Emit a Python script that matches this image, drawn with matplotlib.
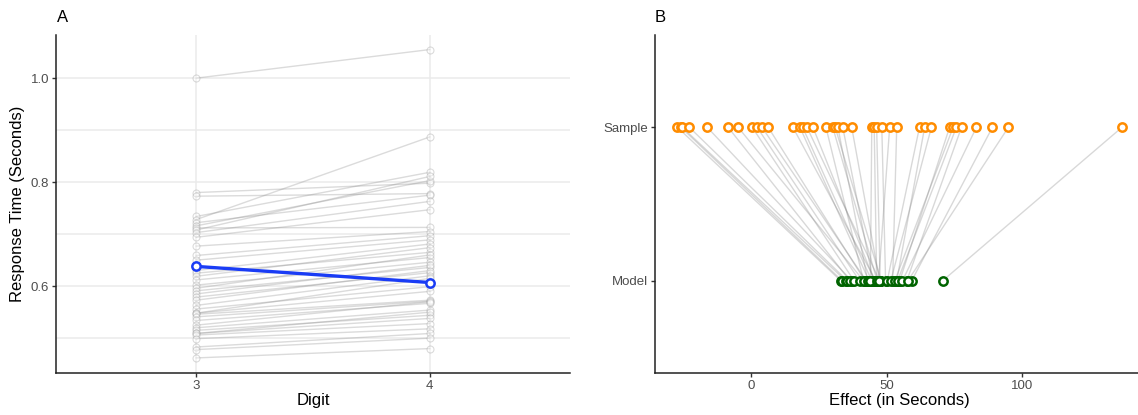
import matplotlib.pyplot as plt
import numpy as np

plt.rcParams['font.family'] = ['Liberation Sans', 'DejaVu Sans']

# Panel A: response times per subject at digit 3 and digit 4
rt3 = [1.000, 0.780, 0.773, 0.734, 0.728, 0.722, 0.716, 0.712, 0.708, 0.703, 0.694,
       0.677, 0.659, 0.650, 0.630, 0.625, 0.619, 0.612, 0.602, 0.596, 0.591, 0.585,
       0.579, 0.573, 0.563, 0.556, 0.548, 0.548, 0.546, 0.541, 0.534, 0.525, 0.520,
       0.515, 0.509, 0.509, 0.506, 0.499, 0.483, 0.478, 0.462]
rt4 = [1.055, 0.798, 0.778, 0.819, 0.887, 0.775, 0.803, 0.713, 0.811, 0.763, 0.747,
       0.705, 0.697, 0.689, 0.681, 0.665, 0.674, 0.655, 0.646, 0.660, 0.636, 0.640,
       0.626, 0.630, 0.620, 0.599, 0.615, 0.590, 0.573, 0.571, 0.567, 0.570, 0.554,
       0.544, 0.550, 0.538, 0.528, 0.518, 0.509, 0.500, 0.480]
digits = [3, 4]
mean_rt = [0.638, 0.607]

# Panel B: per-subject effect, raw sample vs model estimate
sample_eff = [-27.2, -25.9, -25.4, -22.8, -16.2, -8.5, -4.8, 0.4, 2.2, 4.0, 6.3,
              15.4, 18.0, 19.0, 20.6, 22.8, 27.6, 30.1, 31.0, 32.0, 33.8, 37.1,
              44.5, 45.4, 46.3, 48.2, 51.1, 53.7, 62.1, 64.0, 66.5, 73.2, 74.5,
              75.7, 77.6, 83.1, 89.0, 94.9, 136.8]
model_eff = [33.1, 33.6, 34.9, 35.5, 37.1, 36.5, 41.5, 38.0, 40.0, 42.5, 42.0,
             46.0, 43.5, 44.5, 47.4, 45.5, 41.5, 46.5, 48.0, 43.0, 45.0, 47.4,
             44.0, 46.3, 47.6, 49.6, 47.0, 52.2, 50.2, 53.7, 51.5, 54.8, 53.0,
             54.0, 57.4, 55.8, 59.2, 57.8, 70.6]
rows = ['Model', 'Sample']

fig = plt.figure(figsize=(11.38, 4.15), dpi=100)
ax1 = fig.add_axes([0.0492, 0.1012, 0.4517, 0.8145])
ax2 = fig.add_axes([0.5756, 0.1012, 0.4300, 0.8145])

tick_col = '#4d4d4d'
grid_col = '#ebebeb'

# ---- A
for yy in [0.5, 0.6, 0.7, 0.8, 0.9, 1.0]:
    ax1.axhline(yy, color=grid_col, lw=1.1, zorder=0)
for xx in digits:
    ax1.axvline(xx, color=grid_col, lw=1.1, zorder=0)
for a, b in zip(rt3, rt4):
    ax1.plot(digits, [a, b], color='#888888', alpha=0.3, lw=1.0, zorder=2)
    ax1.plot(digits, [a, b], 'o', ms=5, mfc='white', mec='#999999', mew=0.8,
             alpha=0.35, zorder=3)
ax1.plot(digits, mean_rt, color='#1a3cf5', lw=2.4, zorder=4)
ax1.plot(digits, mean_rt, 'o', ms=6, mfc='white', mec='#1a3cf5', mew=1.8, zorder=5)
ax1.set_xlim(2.4, 4.6)
ax1.set_ylim(0.433, 1.083)
ax1.set_xticks(digits)
ax1.set_yticks([0.6, 0.8, 1.0])
ax1.set_yticklabels(['0.6', '0.8', '1.0'])
ax1.set_xlabel('Digit', fontsize=12, labelpad=1)
ax1.set_ylabel('Response Time (Seconds)', fontsize=12, labelpad=4)

# ---- B
for s, m in zip(sample_eff, model_eff):
    ax2.plot([s, m], [2, 1], color='#808080', alpha=0.3, lw=1.0, zorder=1)
ax2.plot(sample_eff, [2] * len(sample_eff), 'o', ms=6, mfc='white',
         mec='#ff8c00', mew=1.8, zorder=3, clip_on=False)
ax2.plot(model_eff, [1] * len(model_eff), 'o', ms=6, mfc='white',
         mec='#006400', mew=1.8, zorder=3)
allv = sample_eff + model_eff
lo, hi = min(allv), max(allv)
pad = 0.05 * (hi - lo)
ax2.set_xlim(lo - pad, hi + pad)
ax2.set_ylim(0.4, 2.6)
ax2.set_xticks([0, 50, 100])
ax2.set_yticks([1, 2])
ax2.set_yticklabels(rows)
ax2.set_xlabel('Effect (in Seconds)', fontsize=12, labelpad=1)

for ax in (ax1, ax2):
    for side in ['top', 'right']:
        ax.spines[side].set_visible(False)
    for side in ['left', 'bottom']:
        ax.spines[side].set_linewidth(1.1)
        ax.spines[side].set_color('#222222')
    ax.tick_params(axis='both', colors='#333333', labelcolor=tick_col,
                   labelsize=9.5, length=3, width=1.0, pad=2)

fig.text(57 / 1138, 1 - 17 / 415, 'A', fontsize=12, va='center', ha='left')
fig.text(655 / 1138, 1 - 17 / 415, 'B', fontsize=12, va='center', ha='left')

fig.savefig('out.png', dpi=100)
